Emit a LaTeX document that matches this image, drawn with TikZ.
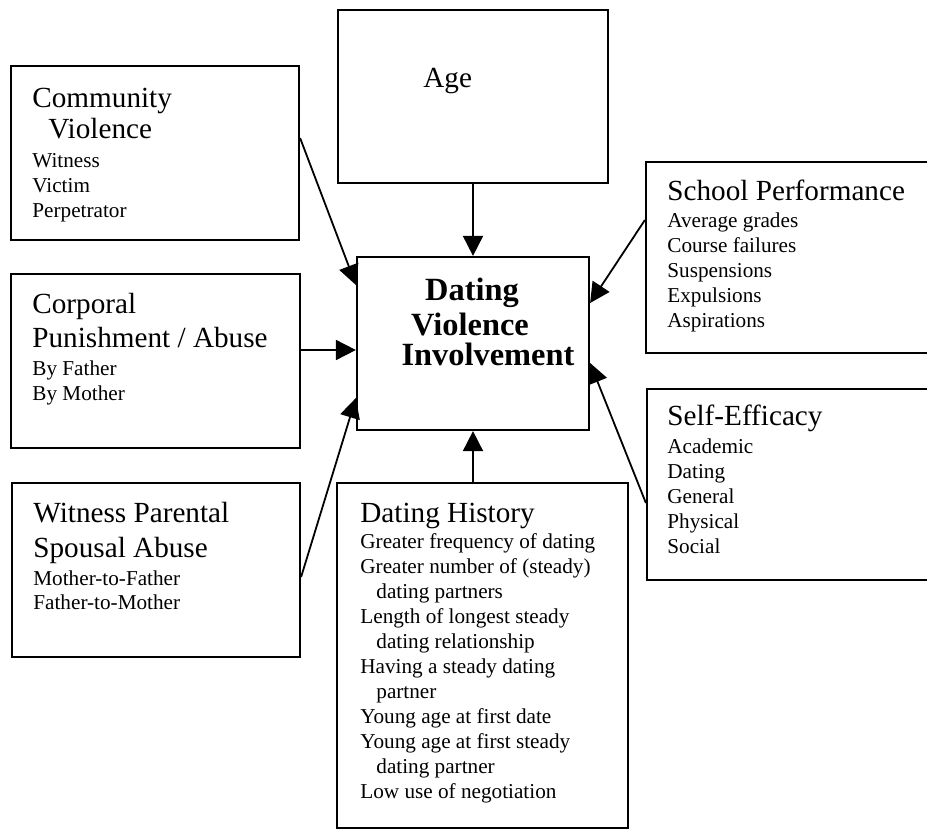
\documentclass[tikz,border=0pt]{standalone}
\usepackage{fontspec}
\setmainfont{Liberation Serif}
\usetikzlibrary{arrows.meta,fit}
\newcommand{\headfont}{\fontsize{14.6}{17}\selectfont}
\newcommand{\itemfont}{\fontsize{10.6}{12.5}\selectfont}
\newcommand{\outfont}{\fontsize{16.2}{19}\selectfont\bfseries}
\begin{document}
\begin{tikzpicture}[x = 0.5pt, y = -0.5pt,
        box/.style = {draw, line width = 1.1pt, inner sep = 0pt},
        head/.style = {font = \headfont, anchor = base west, inner sep = 0pt},
        item/.style = {font = \itemfont, anchor = base west, inner sep = 0pt},
        outcome/.style = {font = \outfont, anchor = base, inner sep = 0pt},
        link/.style = {line width = 0.9pt, -{Triangle[length = 10pt, width = 10pt]}}]
            \clip (0,0) rectangle (927,830);
            \node[box, fit = {(11,66) (299,240)}] (cv) {};
            \node[head] (cv-h1) at (32,107) {Community};
            \node[head] (cv-h2) at (48,138) {Violence};
            \foreach \t [count = \i] in {Witness, Victim, Perpetrator}
                \node[item] (cv-\i) at (32,142+25*\i) {\t};
            \node[box, fit = {(11,274) (300,448)}] (cp) {};
            \node[head] (cp-h1) at (32,313) {Corporal};
            \node[head] (cp-h2) at (32,347) {Punishment / Abuse};
            \foreach \t [count = \i] in {By Father, By Mother}
                \node[item] (cp-\i) at (32,350+25*\i) {\t};
            \node[box, fit = {(12,483) (300,657)}] (wp) {};
            \node[head] (wp-h1) at (33,522) {Witness Parental};
            \node[head] (wp-h2) at (33,557) {Spousal Abuse};
            \foreach \t [count = \i] in {Mother-to-Father, Father-to-Mother}
                \node[item] (wp-\i) at (33,561+24*\i) {\t};
            \node[box, fit = {(338,10) (608,183)}] (age) {};
            \node[head] (age-h) at (423,87) {Age};
            \node[box, fit = {(357,257) (589,430)}] (dvi) {};
            \node[outcome] (dvi-1) at (472,300) {Dating};
            \node[outcome] (dvi-2) at (470,335) {Violence};
            \node[outcome] (dvi-3) at (488,365) {Involvement};
            \node[box, fit = {(646,162) (945,353)}] (sp) {};
            \node[head] (sp-h) at (667,200) {School Performance};
            \foreach \t [count = \i] in {Average grades, Course failures, Suspensions, Expulsions, Aspirations}
                \node[item] (sp-\i) at (667,202+25*\i) {\t};
            \node[box, fit = {(647,389) (945,580)}] (se) {};
            \node[head] (se-h) at (667,425) {Self-Efficacy};
            \foreach \t [count = \i] in {Academic, Dating, General, Physical, Social}
                \node[item] (se-\i) at (667,428+25*\i) {\t};
            \node[box, fit = {(337,483) (628,828)}] (dh) {};
            \node[head] (dh-h) at (360,522) {Dating History};
            \foreach \t [count = \i] in {Greater frequency of dating, Greater number of (steady),
                    \hspace{8pt}dating partners, Length of longest steady, \hspace{8pt}dating relationship,
                    Having a steady dating, \hspace{8pt}partner, Young age at first date,
                    Young age at first steady, \hspace{8pt}dating partner, Low use of negotiation}
                \node[item] (dh-\i) at (360,523+25*\i) {\t};
            \draw[link] ([yshift = 7.5pt]cv.east) -- ([yshift = 29.25pt]dvi.west);
            \draw[link] ([yshift = 5.5pt]cp.east) -- ([yshift = 5.5pt]cp.east -| dvi.west);
            \draw[link] ([yshift = -3.5pt]wp.east) -- ([yshift = -27.25pt]dvi.west);
            \draw[link] (age.south) -- (dvi.north);
            \draw[link] ([yshift = 18.75pt]sp.west) -- ([yshift = 20.25pt]dvi.east);
            \draw[link] ([yshift = -9.25pt]se.west) -- ([yshift = -9.75pt]dvi.east);
            \draw[link] (dvi.south |- dh.north) -- (dvi.south);
        \end{tikzpicture}
\end{document}
